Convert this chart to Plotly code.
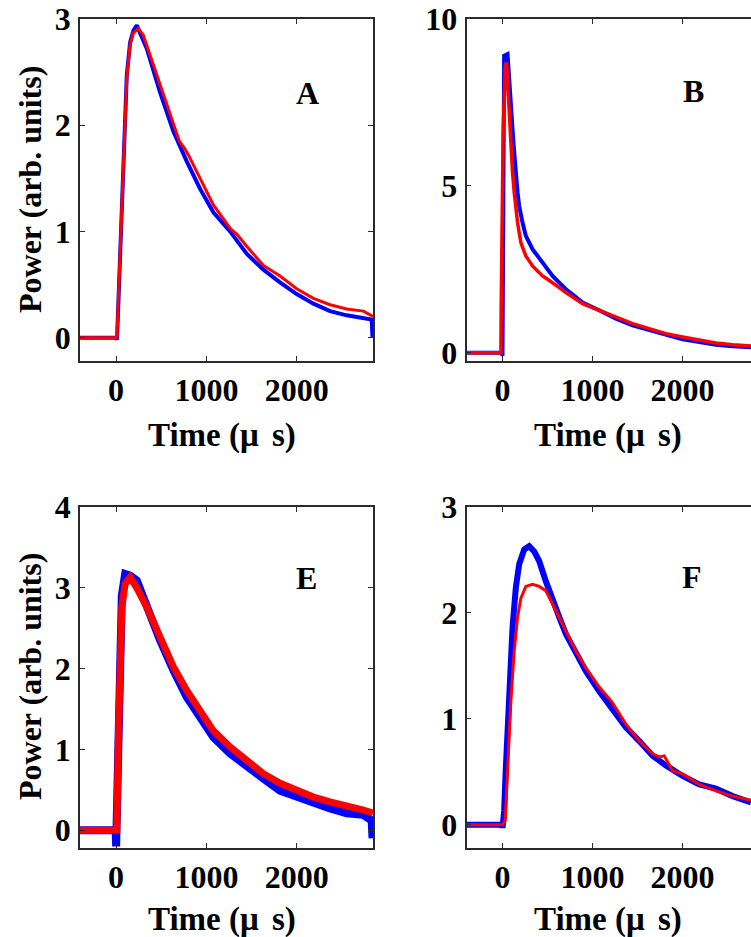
import plotly.graph_objects as go

# ---------------- data ----------------
TIME_TICKS = [0, 1000, 2000]
TIME_TICK_LABELS = ["0", "1000", "2000"]

# Panel A
A_BLUE_T = [-400, 0, 10, 44, 81, 118, 155, 192, 229, 260, 340, 487, 635, 782, 930, 1077, 1262,
            1446, 1631, 1815, 2000, 2185, 2369, 2554, 2738, 2830, 2840]
A_BLUE_P = [0, 0, -0.02, 0.84, 1.78, 2.47, 2.78, 2.89, 2.94, 2.88, 2.72, 2.31, 1.94, 1.66, 1.40,
            1.18, 1.00, 0.79, 0.64, 0.52, 0.41, 0.32, 0.25, 0.21, 0.18, 0.17, 0.0]
A_RED_T = [-400, 0, 10, 44, 81, 118, 155, 192, 247, 300, 340, 487, 635, 700, 760, 800, 930, 1077,
           1262, 1340, 1446, 1631, 1815, 2000, 2185, 2369, 2554, 2738, 2845]
A_RED_P = [0, 0, 0.02, 0.80, 1.75, 2.45, 2.76, 2.87, 2.91, 2.85, 2.75, 2.38, 2.02, 1.85, 1.78,
           1.72, 1.50, 1.25, 1.03, 0.97, 0.86, 0.68, 0.58, 0.46, 0.37, 0.31, 0.27, 0.25, 0.20]
A_TICKS = [0, 1, 2, 3]

# Panel B
B_BLUE_T = [-400, -3, 0, 3, 7, 18, 56, 74, 92, 111, 130, 148, 167, 185, 204, 222, 259, 296, 333,
            389, 444, 500, 556, 630, 704, 800, 889, 1074, 1259, 1444, 1630, 1815, 2000, 2185,
            2370, 2556, 2760]
B_BLUE_P = [0, 0, -0.1, 3.0, 7.3, 8.9, 8.95, 8.1, 7.4, 6.7, 6.0, 5.3, 4.8, 4.4, 4.1, 3.9, 3.5,
            3.3, 3.1, 2.9, 2.7, 2.5, 2.3, 2.1, 1.9, 1.7, 1.5, 1.27, 1.02, 0.82, 0.67, 0.52,
            0.40, 0.32, 0.24, 0.19, 0.16]
B_RED_T = [-400, -18, -15, 7, 30, 44, 67, 93, 111, 130, 148, 167, 185, 204, 230, 259, 296, 333,
           389, 444, 500, 556, 630, 704, 800, 889, 1074, 1259, 1444, 1630, 1815, 2000, 2185,
           2370, 2556, 2760]
B_RED_P = [0, 0, 1.3, 6.6, 8.6, 8.7, 7.6, 6.1, 5.4, 4.8, 4.3, 3.9, 3.6, 3.3, 3.1, 2.9, 2.75, 2.6,
           2.45, 2.3, 2.2, 2.1, 1.95, 1.8, 1.63, 1.47, 1.27, 1.07, 0.87, 0.72, 0.57, 0.47, 0.37,
           0.29, 0.24, 0.20]
B_TICKS = [0, 5, 10]

# Panel E
E_BLUE_T = [-400, -5, 0, 15, 37, 63, 100, 155, 229, 340, 487, 635, 782, 930, 1077, 1262, 1446,
            1631, 1815, 2000, 2185, 2369, 2554, 2738, 2830, 2840]
E_BLUE_P = [0, 0, -0.2, 0.78, 2.2, 2.9, 3.17, 3.15, 3.09, 2.76, 2.35, 1.98, 1.65, 1.40, 1.15,
            0.95, 0.78, 0.64, 0.49, 0.41, 0.33, 0.27, 0.21, 0.19, 0.12, -0.1]
E_RED_T = [-400, 7, 26, 44, 63, 100, 155, 229, 340, 487, 635, 782, 930, 1077, 1262, 1446, 1631,
           1815, 2000, 2185, 2369, 2554, 2738, 2845]
E_RED_P = [0, 0, 1.19, 2.22, 2.76, 3.05, 3.13, 3.0, 2.76, 2.39, 2.02, 1.73, 1.48, 1.23, 1.03,
           0.86, 0.70, 0.58, 0.49, 0.41, 0.35, 0.31, 0.25, 0.21]
E_TICKS = [0, 1, 2, 3, 4]

# Panel F
F_BLUE_T = [-400, -5, 0, 18, 37, 74, 111, 148, 185, 241, 296, 352, 407, 481, 556, 630, 704, 815,
            926, 1074, 1222, 1370, 1519, 1667, 1815, 2000, 2185, 2370, 2556, 2760]
F_BLUE_P = [0, 0, -0.03, 0.13, 0.54, 1.30, 1.86, 2.24, 2.46, 2.60, 2.63, 2.58, 2.49, 2.30, 2.11,
            1.96, 1.80, 1.61, 1.45, 1.26, 1.08, 0.92, 0.79, 0.65, 0.56, 0.46, 0.38, 0.34, 0.27,
            0.21]
F_RED_T = [-400, 0, 30, 56, 93, 130, 167, 204, 259, 333, 407, 481, 556, 630, 704, 815, 926, 1074,
           1185, 1222, 1370, 1519, 1667, 1741, 1796, 1889, 2000, 2185, 2370, 2556, 2760]
F_RED_P = [0, 0, 0.04, 0.54, 1.17, 1.64, 1.96, 2.14, 2.25, 2.27, 2.25, 2.21, 2.08, 1.96, 1.83,
           1.64, 1.48, 1.30, 1.19, 1.15, 0.95, 0.79, 0.67, 0.64, 0.65, 0.51, 0.48, 0.38, 0.32,
           0.27, 0.23]
F_TICKS = [0, 1, 2, 3]

PANEL_LETTERS = ["A", "B", "E", "F"]
X_TITLE = "Time (μ\u2009\u2009s)"
Y_TITLE = "Power (arb. units)"

# ---------------- layout geometry ----------------
W, H = 751, 937
FONT = "Liberation Serif"
BLUE = "#0000ff"
RED = "#ff0000"
AX = "#2a2a2a"


def px_x(p):
    return p / W


def px_y(p):
    return 1 - p / H


panels = [
    dict(key="", xt=(A_BLUE_T, A_BLUE_P), rd=(A_RED_T, A_RED_P), yt=A_TICKS, yr=[-0.22, 3.0],
         xd=[80, 373], yd=[19, 361], xr=[-400, 2845], right=True, bw=4, rw=3),
    dict(key="2", xt=(B_BLUE_T, B_BLUE_P), rd=(B_RED_T, B_RED_P), yt=B_TICKS, yr=[-0.25, 10.0],
         xd=[466.5, 751], yd=[19, 361], xr=[-400, 2760], right=False, bw=4, rw=3.5),
    dict(key="3", xt=(E_BLUE_T, E_BLUE_P), rd=(E_RED_T, E_RED_P), yt=E_TICKS, yr=[-0.22, 4.0],
         xd=[80, 373], yd=[507, 848], xr=[-400, 2845], right=True, bw=8, rw=7),
    dict(key="4", xt=(F_BLUE_T, F_BLUE_P), rd=(F_RED_T, F_RED_P), yt=F_TICKS, yr=[-0.22, 3.0],
         xd=[466.5, 751], yd=[507, 848], xr=[-400, 2760], right=False, bw=6, rw=3),
]

fig = go.Figure()
tickfont = dict(family=FONT, size=32, color="black", weight="bold")

for p in panels:
    k = p["key"]
    xa = "x" + k
    ya = "y" + k
    fig.add_trace(go.Scatter(x=p["xt"][0], y=p["xt"][1], mode="lines", xaxis=xa, yaxis=ya,
                             line=dict(color=BLUE, width=p["bw"]), showlegend=False))
    fig.add_trace(go.Scatter(x=p["rd"][0], y=p["rd"][1], mode="lines", xaxis=xa, yaxis=ya,
                             line=dict(color=RED, width=p["rw"]), showlegend=False))
    xname = "xaxis" + k
    yname = "yaxis" + k
    fig.layout[xname] = dict(
        domain=[px_x(p["xd"][0]), px_x(p["xd"][1])], range=p["xr"], anchor=ya,
        tickvals=TIME_TICKS, ticktext=TIME_TICK_LABELS, ticks="inside", ticklen=5,
        tickwidth=1.3, tickcolor=AX, showline=True, linecolor=AX, linewidth=1.5,
        mirror="ticks", showgrid=False, zeroline=False, tickfont=tickfont,
        ticklabelstandoff=0, automargin=False,
    )
    fig.layout[yname] = dict(
        domain=[px_y(p["yd"][1]), px_y(p["yd"][0])], range=p["yr"], anchor=xa,
        tickvals=p["yt"], ticks="inside", ticklen=5, tickwidth=1.3, tickcolor=AX,
        showline=True, linecolor=AX, linewidth=1.5,
        mirror="ticks" if p["right"] else False, showgrid=False, zeroline=False,
        tickfont=tickfont, ticklabelstandoff=1, automargin=False,
    )

annotations = []
# panel letters
for letter, (cx, cy) in zip(PANEL_LETTERS, [(307, 93), (693, 91), (306, 578), (692, 577)]):
    annotations.append(dict(text=letter, x=px_x(cx), y=px_y(cy), xref="paper", yref="paper",
                            xanchor="center", yanchor="middle", showarrow=False,
                            font=dict(family=FONT, size=32, color="black", weight="bold")))
# x titles
for cx, cy in [(222, 435), (608, 435), (222, 919), (608, 919)]:
    annotations.append(dict(text=X_TITLE, x=px_x(cx), y=px_y(cy), xref="paper", yref="paper",
                            xanchor="center", yanchor="middle", showarrow=False,
                            font=dict(family=FONT, size=33, color="black", weight="bold")))
# y titles
for cx, cy in [(30, 190), (30, 677)]:
    annotations.append(dict(text=Y_TITLE, x=px_x(cx), y=px_y(cy), xref="paper", yref="paper",
                            xanchor="center", yanchor="middle", showarrow=False, textangle=-90,
                            font=dict(family=FONT, size=32, color="black", weight="bold")))

fig.update_layout(width=W, height=H,
                  margin=dict(l=0, r=0, t=0, b=0, pad=0, autoexpand=False),
                  paper_bgcolor="white", plot_bgcolor="white", annotations=annotations)

fig.write_html("out.html", config={"displayModeBar": False},
               post_script="document.body.style.margin='0px';document.body.style.overflow='hidden';")
